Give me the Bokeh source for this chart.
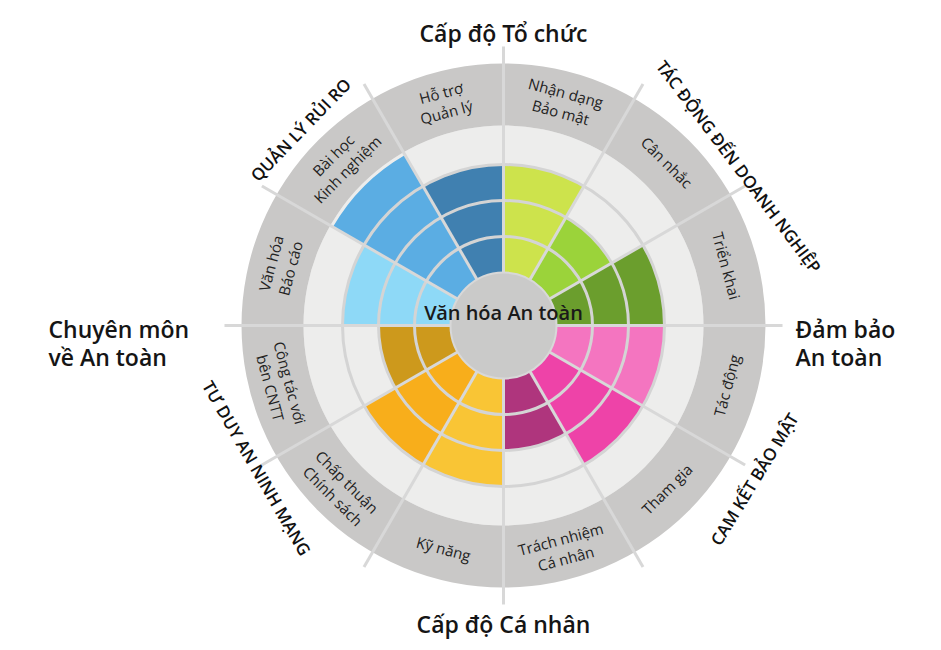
import numpy as np
from bokeh.plotting import figure
from bokeh.models import Range1d, ColumnDataSource
from bokeh.core.properties import value
from bokeh.embed import file_html
from bokeh.resources import INLINE

# ---------------- data ----------------
segments = ["Nhận dạng\nBảo mật", "Cân nhắc", "Triển khai", "Tác động", "Tham gia",
            "Trách nhiệm\nCá nhân", "Kỹ năng", "Chấp thuận\nChính sách",
            "Công tác với\nbên CNTT", "Văn hóa\nBáo cáo", "Bài học\nKinh nghiệm",
            "Hỗ trợ\nQuản lý"]
levels = [3, 2, 3, 3, 3, 2, 3, 3, 2, 3, 4, 3]
colors = ["#CDE34C", "#9BD33A", "#6B9E2D", "#F475C0", "#EE43A8", "#AF357D",
          "#F9C535", "#F8AE1B", "#CD991C", "#8ED9F7", "#5BADE3", "#4080B0"]
max_level = 4

groups = ["QUẢN LÝ RỦI RO", "TÁC ĐỘNG ĐẾN DOANH NGHIỆP", "CAM KẾT BẢO MẬT", "TƯ DUY AN NINH MẠNG"]
group_angles = [136, 34, -31.5, 210]
group_rotations = [46, -53, 58.5, -60]

top_bottom_titles = ["Cấp độ Tổ chức", "Cấp độ Cá nhân"]
left_title = ["Chuyên môn", "về An toàn"]
right_title = ["Đảm bảo", "An toàn"]
center_title = "Văn hóa An toàn"

# ---------------- geometry / style ----------------
HOLE = 53
STEP = 36
RING_IN = 200
RING_OUT = 262
SEP_OUT = 279
FONT = "Open Sans"
FONT_SB = "Open Sans SemiBold"

n = len(segments)
width_deg = 360 / n
starts = np.radians([90 - width_deg * (i + 1) for i in range(n)])
ends = np.radians([90 - width_deg * i for i in range(n)])
mids = (starts + ends) / 2
outer_r = [HOLE + STEP * lv for lv in levels]

p = figure(width=925, height=642, output_backend="svg", toolbar_location=None,
           x_range=Range1d(-503, 422), y_range=Range1d(-317, 325),
           min_border=0)
p.axis.visible = False
p.grid.visible = False
p.outline_line_color = None
p.background_fill_color = "white"
p.border_fill_color = "white"

# background disk and label ring
p.annular_wedge(x=0, y=0, inner_radius=HOLE, outer_radius=RING_IN, start_angle=0,
                end_angle=2 * np.pi, fill_color="#EDEDEC", line_color=None)
p.annular_wedge(x=0, y=0, inner_radius=RING_IN, outer_radius=RING_OUT, start_angle=0,
                end_angle=2 * np.pi, fill_color="#C9C8C7", line_color=None)

# value wedges
src = ColumnDataSource(dict(start=starts, end=ends, r=outer_r, color=colors))
p.annular_wedge(x=0, y=0, inner_radius=HOLE, outer_radius="r", start_angle="start",
                end_angle="end", fill_color="color", line_color=None, source=src)

# grid circles
grid_r = [HOLE + STEP * k for k in range(1, max_level)]
p.circle(x=[0] * len(grid_r), y=[0] * len(grid_r), radius=grid_r, fill_color=None,
         line_color="#D4D4D4", line_width=3)

# separators
sep_angles = ends
p.segment(x0=HOLE * np.cos(sep_angles), y0=HOLE * np.sin(sep_angles),
          x1=SEP_OUT * np.cos(sep_angles), y1=SEP_OUT * np.sin(sep_angles),
          line_color="#D8D8D8", line_width=3)

# center hole
p.circle(x=[0], y=[0], radius=[HOLE], fill_color="#CACAC9", line_color="#D8D8D8",
         line_width=2)
p.text(x=[0], y=[13], text=[center_title], text_font=value(FONT_SB),
       text_font_size="20px", text_color="#1a1a1a", text_align="center",
       text_baseline="middle")

# segment labels in ring
LBL_R = 231
rot = [m - np.pi / 2 if np.sin(m) > 0 else m + np.pi / 2 for m in mids]
p.text(x=LBL_R * np.cos(mids), y=LBL_R * np.sin(mids), text=segments, angle=rot,
       text_font=value(FONT), text_font_size="15px", text_color="#222222",
       text_align="center", text_baseline="middle", text_line_height=1.0)

# group labels outside ring
ga = np.radians(group_angles)
grad = [282, 284, 294, 285]
p.text(x=np.array(grad) * np.cos(ga), y=np.array(grad) * np.sin(ga), text=groups,
       angle=np.radians(group_rotations), text_font=value(FONT_SB), text_font_size="17px",
       text_color="#111111", text_align="center", text_baseline="middle")

# axis titles
p.text(x=[0, 0], y=[293, -298], text=top_bottom_titles, text_font=value(FONT_SB),
       text_font_size="23px", text_color="#151515",
       text_align="center", text_baseline="middle")
p.text(x=[-455, -455], y=[-3, -31], text=left_title, text_font=value(FONT_SB),
       text_font_size="23px", text_color="#151515",
       text_align="left", text_baseline="middle")
p.text(x=[292, 292], y=[-3, -31], text=right_title, text_font=value(FONT_SB),
       text_font_size="23px", text_color="#151515",
       text_align="left", text_baseline="middle")

open("out.html", "w").write(file_html(p, INLINE))
